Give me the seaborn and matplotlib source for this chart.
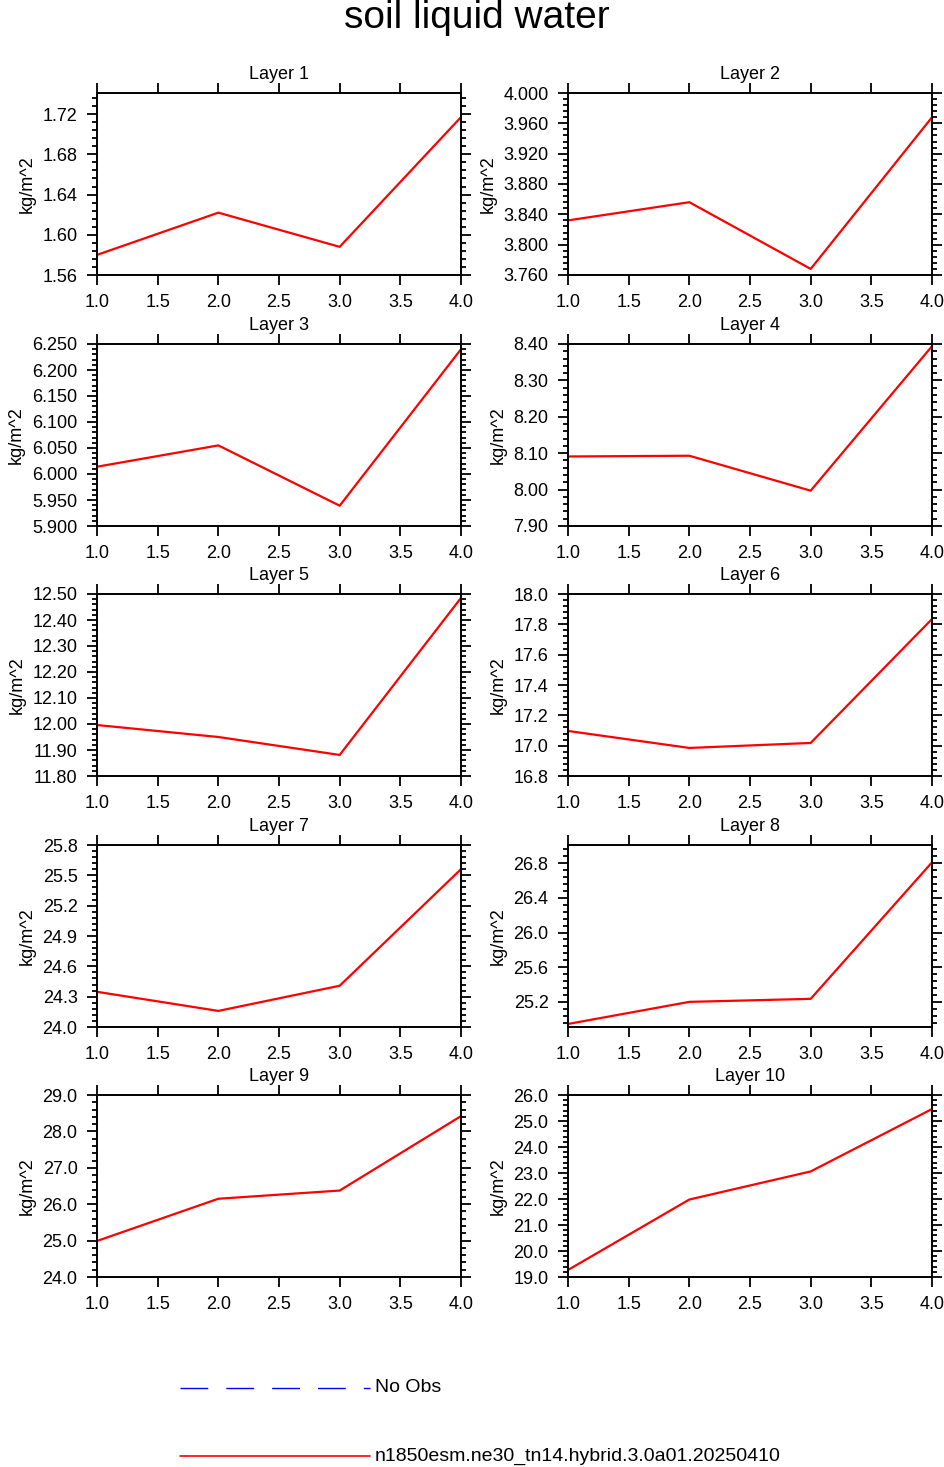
import matplotlib
matplotlib.use("Agg")
import matplotlib.pyplot as plt
import seaborn as sns
from matplotlib.ticker import MultipleLocator, AutoMinorLocator, FormatStrFormatter

years = [1.0, 2.0, 3.0, 4.0]
layers = [f"Layer {i}" for i in range(1, 11)]
values = [
    [1.580, 1.622, 1.588, 1.717],
    [3.832, 3.856, 3.768, 3.968],
    [6.014, 6.055, 5.939, 6.240],
    [8.091, 8.093, 7.997, 8.394],
    [11.996, 11.950, 11.881, 12.485],
    [17.097, 16.985, 17.018, 17.835],
    [24.348, 24.159, 24.408, 25.561],
    [24.945, 25.200, 25.235, 26.810],
    [24.99, 26.15, 26.375, 28.42],
    [19.27, 21.98, 23.06, 25.46],
]
# (ymin, ymax, major step, format)
yaxes = [
    (1.56, 1.741, 0.04, "%.2f"),
    (3.76, 4.0, 0.04, "%.3f"),
    (5.90, 6.25, 0.05, "%.3f"),
    (7.90, 8.40, 0.10, "%.2f"),
    (11.80, 12.50, 0.10, "%.2f"),
    (16.8, 18.0, 0.2, "%.1f"),
    (24.0, 25.8, 0.3, "%.1f"),
    (24.91, 27.01, 0.4, "%.1f"),
    (24.0, 29.0, 1.0, "%.1f"),
    (19.0, 26.0, 1.0, "%.1f"),
]
model_name = "n1850esm.ne30_tn14.hybrid.3.0a01.20250410"

sns.set_style("ticks", {"text.color": "black", "axes.edgecolor": "black",
                        "xtick.color": "black", "ytick.color": "black",
                        "axes.labelcolor": "black"})
plt.rcParams["font.family"] = ["Liberation Sans", "DejaVu Sans"]

W, H = 944, 1467
fig = plt.figure(figsize=(W / 100, H / 100), dpi=100)
fig.text(0.505, 1 - 18 / H, "soil liquid water", ha="center", va="center", fontsize=28)

lefts = [97, 568]
tops = [93, 344, 594, 845, 1095]
for i, (name, vals, (y0, y1, step, fmt)) in enumerate(zip(layers, values, yaxes)):
    r, c = divmod(i, 2)
    ax = fig.add_axes([lefts[c] / W, 1 - (tops[r] + 182) / H, 364 / W, 182 / H])
    sns.lineplot(x=years, y=vals, ax=ax, color="red", linewidth=1.6)
    ax.set_xlim(1.0, 4.0)
    ax.set_ylim(y0, y1)
    ax.xaxis.set_major_locator(MultipleLocator(0.5))
    ax.xaxis.set_major_formatter(FormatStrFormatter("%.1f"))
    ax.yaxis.set_major_locator(MultipleLocator(step))
    ax.yaxis.set_minor_locator(AutoMinorLocator(5))
    ax.yaxis.set_major_formatter(FormatStrFormatter(fmt))
    ax.tick_params(which="both", direction="out", top=True, right=True, labelsize=13, width=1.3)
    ax.tick_params(which="major", length=7, pad=7)
    ax.tick_params(which="minor", length=3.5)
    for s in ax.spines.values():
        s.set_linewidth(1.4)
    ax.set_title(name, fontsize=13, pad=10)
    ax.set_ylabel("kg/m^2", fontsize=13, labelpad=5)

lax = fig.add_axes([0, 0, 1, 1])
lax.set_xlim(0, W)
lax.set_ylim(H, 0)
lax.axis("off")
lax.plot([180, 370], [1388, 1388], color="blue", linestyle=(0, (20, 13)), linewidth=1)
lax.text(375, 1388, "No Obs", va="center", fontsize=14)
lax.plot([180, 370], [1456, 1456], color="red", linewidth=1.2)
lax.text(375, 1456, model_name, va="center", fontsize=14)

fig.savefig("out.png", dpi=100)
